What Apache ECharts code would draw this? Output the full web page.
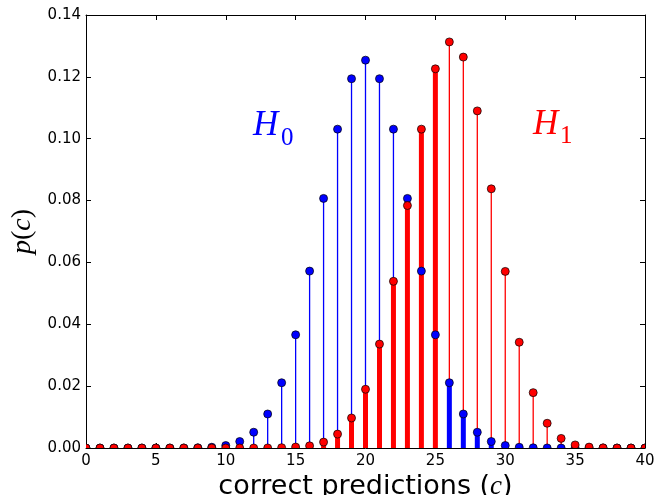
<!DOCTYPE html>
<html>
<head>
<meta charset="utf-8">
<script src="https://cdn.jsdelivr.net/npm/echarts@6/dist/echarts.min.js"></script>
<style>
  html, body { margin: 0; padding: 0; background: #fff; }
  #chart { width: 654px; height: 495px; }
</style>
</head>
<body>
<div id="chart"></div>
<script>
// number of correct predictions c = 0..40
const counts = [0, 1, 2, 3, 4, 5, 6, 7, 8, 9, 10, 11, 12, 13, 14, 15, 16, 17, 18, 19, 20,
    21, 22, 23, 24, 25, 26, 27, 28, 29, 30, 31, 32, 33, 34, 35, 36, 37, 38, 39, 40];

// p(c) under H0 (blue)
const h0Values = [0, 0, 0, 0, 0, 0, 0, 0.00002, 0.00007, 0.00025, 0.0008, 0.0021, 0.0051, 0.0110,
    0.0211, 0.0366, 0.0572, 0.0807, 0.1031, 0.1194, 0.1254, 0.1194, 0.1031, 0.0807, 0.0572,
    0.0366, 0.0211, 0.0110, 0.0051, 0.0021, 0.0008, 0.00025, 0.00007, 0.00002, 0, 0, 0, 0, 0, 0, 0];

// p(c) under H1 (red)
const h1Values = [0, 0, 0, 0, 0, 0, 0, 0, 0, 0, 0, 0, 0, 0.00002, 0.0001, 0.0003, 0.0007, 0.0019,
    0.0045, 0.0097, 0.0190, 0.0336, 0.0539, 0.0784, 0.1031, 0.1226, 0.1313, 0.1264, 0.1090,
    0.0838, 0.0571, 0.0342, 0.0179, 0.0080, 0.0031, 0.0010, 0.0003, 0.00005, 0, 0, 0];

// decide H1 when c >= cutoff
const cutoff = 26;

const BLUE = '#0000ff';
const RED = '#ff0000';
const mathFont = '"Liberation Serif", "Times New Roman", serif';
const textFont = '"DejaVu Sans", sans-serif';

function pairs(values, keep) {
    return counts.map((c, i) => [c, values[i]]).filter(d => keep(d[0]));
}

// 竖线 (stem)
function stemSeries(values, color, width, keep) {
    return {
        type: 'custom',
        clip: true,
        silent: true,
        encode: { x: 0, y: 1 },
        data: pairs(values, keep),
        renderItem: function (params, api) {
            const top = api.coord([api.value(0), api.value(1)]);
            const base = api.coord([api.value(0), 0]);
            return {
                type: 'line',
                shape: { x1: base[0], y1: base[1], x2: top[0], y2: top[1] },
                style: { stroke: color, lineWidth: width, opacity: 1 }
            };
        }
    };
}

// 圆点 (marker)
function markerSeries(values, color) {
    return {
        type: 'custom',
        clip: true,
        silent: true,
        encode: { x: 0, y: 1 },
        data: pairs(values, () => true),
        renderItem: function (params, api) {
            const p = api.coord([api.value(0), api.value(1)]);
            return {
                type: 'circle',
                shape: { cx: p[0], cy: p[1], r: 4 },
                style: { fill: color, stroke: '#000', lineWidth: 0.7 }
            };
        }
    };
}

const axisCommon = {
    axisLine: { show: true, onZero: false, lineStyle: { color: '#000', width: 1 } },
    axisTick: { show: true, inside: true, length: 5, lineStyle: { color: '#000' } },
    splitLine: { show: false }
};

const chart = echarts.init(document.getElementById('chart'));

chart.setOption({
    backgroundColor: '#fff',
    animation: false,
    grid: { left: 86, right: 9, top: 15, bottom: 47, containLabel: false, outerBoundsMode: 'none' },
    xAxis: [
        Object.assign({
            type: 'value', min: 0, max: 40, interval: 5, position: 'bottom',
            axisLabel: { color: '#000', fontSize: 15, fontFamily: textFont, margin: 6 },
            name: 'correct predictions ({c|c})',
            nameLocation: 'middle',
            nameGap: 19,
            nameTextStyle: {
                color: '#000', fontSize: 27, fontFamily: textFont,
                rich: { c: { fontSize: 27, fontStyle: 'italic', fontFamily: mathFont, color: '#000' } }
            }
        }, axisCommon),
        Object.assign({
            type: 'value', min: 0, max: 40, interval: 5, position: 'top',
            axisLabel: { show: false }
        }, axisCommon)
    ],
    yAxis: [
        Object.assign({
            type: 'value', min: 0, max: 0.14, interval: 0.02, position: 'left',
            axisLabel: {
                color: '#000', fontSize: 15, fontFamily: textFont, margin: 5,
                formatter: v => v.toFixed(2)
            },
            name: '{i|p}({i|c})',
            nameLocation: 'middle',
            nameRotate: 90,
            nameGap: 44,
            nameTextStyle: {
                color: '#000', fontSize: 28, fontFamily: mathFont,
                rich: { i: { fontSize: 28, fontStyle: 'italic', fontFamily: mathFont, color: '#000' } }
            }
        }, axisCommon),
        Object.assign({
            type: 'value', min: 0, max: 0.14, interval: 0.02, position: 'right',
            axisLabel: { show: false }
        }, axisCommon)
    ],
    graphic: [
        { type: 'text', x: 253, y: 126, style: { text: 'H', fill: BLUE, font: 'italic 35px ' + mathFont, align: 'left', verticalAlign: 'middle' } },
        { type: 'text', x: 281, y: 138, style: { text: '0', fill: BLUE, font: '25px ' + mathFont, align: 'left', verticalAlign: 'middle' } },
        { type: 'text', x: 533, y: 125, style: { text: 'H', fill: RED, font: 'italic 35px ' + mathFont, align: 'left', verticalAlign: 'middle' } },
        { type: 'text', x: 560, y: 136, style: { text: '1', fill: RED, font: '25px ' + mathFont, align: 'left', verticalAlign: 'middle' } }
    ],
    series: [
        stemSeries(h0Values, BLUE, 1.3, () => true),
        stemSeries(h1Values, RED, 1.3, () => true),
        stemSeries(h1Values, RED, 5, c => c < cutoff),
        stemSeries(h0Values, BLUE, 5, c => c >= cutoff),
        markerSeries(h0Values, BLUE),
        markerSeries(h1Values, RED)
    ]
});

window.addEventListener('resize', function () {
    chart.resize();
});
</script>
</body>
</html>
